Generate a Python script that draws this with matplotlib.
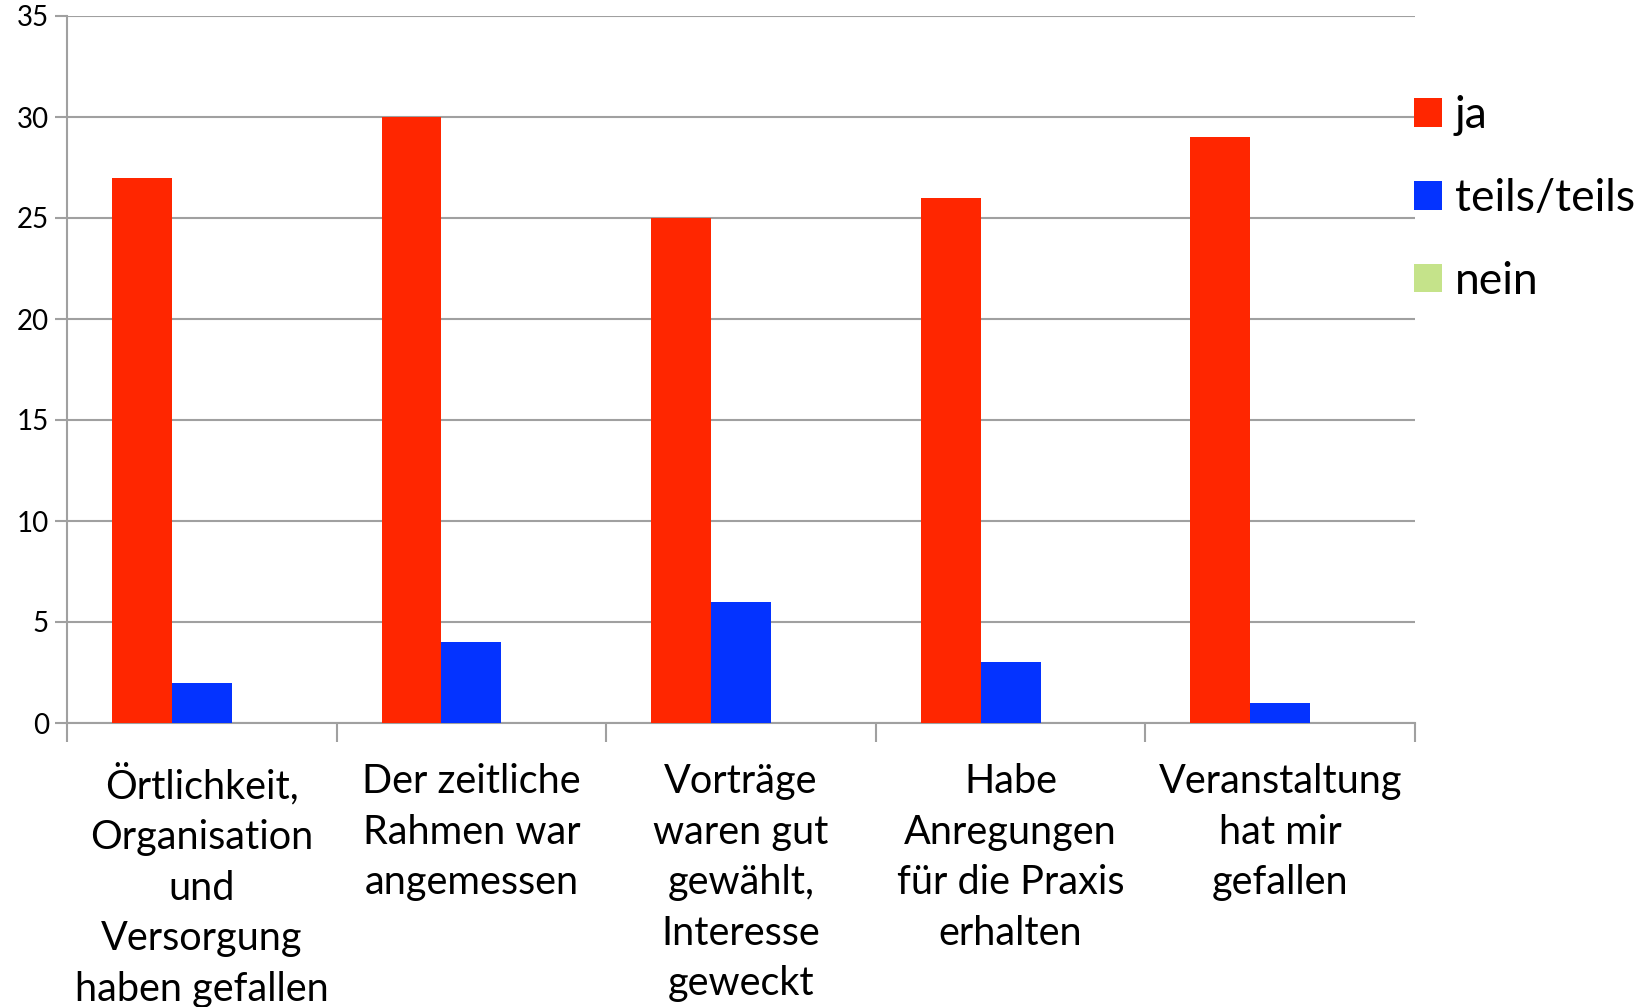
import numpy as np
import matplotlib
matplotlib.use("Agg")
import matplotlib.pyplot as plt
from matplotlib.patches import Patch

plt.rcParams['font.family'] = ['Lato', 'DejaVu Sans']

# categories and answer counts
categories = [
    "Örtlichkeit,\nOrganisation\nund\nVersorgung\nhaben gefallen",
    "Der zeitliche\nRahmen war\nangemessen",
    "Vorträge\nwaren gut\ngewählt,\nInteresse\ngeweckt",
    "Habe\nAnregungen\nfür die Praxis\nerhalten",
    "Veranstaltung\nhat mir\ngefallen",
]
ja = [27, 30, 25, 26, 29]
teils = [2, 4, 6, 3, 1]
nein = [0, 0, 0, 0, 0]

series_names = ["ja", "teils/teils", "nein"]
colors = ["#ff2600", "#0433ff", "#c5e38a"]

fig = plt.figure(figsize=(16.41, 10.07), dpi=100)
ax = fig.add_axes([67 / 1641, 1 - 723 / 1007, (1415 - 67) / 1641, (723 - 16) / 1007])

x = np.arange(len(categories))
w = 1 / 4.5
for i, (vals, c) in enumerate(zip([ja, teils, nein], colors)):
    ax.bar(x + (i - 1) * w, vals, width=w, color=c, zorder=3)

ax.set_xlim(-0.5, len(categories) - 0.5)
ax.set_ylim(0, 35)
ax.set_yticks(np.arange(0, 36, 5))
ax.yaxis.grid(True, color="#a0a0a0", linewidth=1.5, zorder=0)

for s in ["top", "right"]:
    ax.spines[s].set_visible(False)
for s in ["left", "bottom"]:
    ax.spines[s].set_color("#a0a0a0")
    ax.spines[s].set_linewidth(1.5)

ax.set_xticks(x)
ax.set_xticklabels(categories, fontsize=28.5, linespacing=1.45)
ax.set_xticks(np.arange(-0.5, len(categories)), minor=True)
ax.tick_params(axis="x", which="major", length=0, pad=29)
ax.tick_params(axis="x", which="minor", length=14, width=1.5, color="#a0a0a0")
ax.tick_params(axis="y", length=9, width=1.5, color="#a0a0a0", labelsize=20, pad=4)

handles = [Patch(facecolor=c, label=n) for c, n in zip(colors, series_names)]
fig.legend(handles=handles, loc="upper left", bbox_to_anchor=(1414 / 1641, 1 - 95 / 1007),
           frameon=False, fontsize=32, handlelength=0.62, handleheight=0.62,
           handletextpad=0.3, labelspacing=0.94, borderaxespad=0, borderpad=0)

fig.savefig("out.png", dpi=100)
